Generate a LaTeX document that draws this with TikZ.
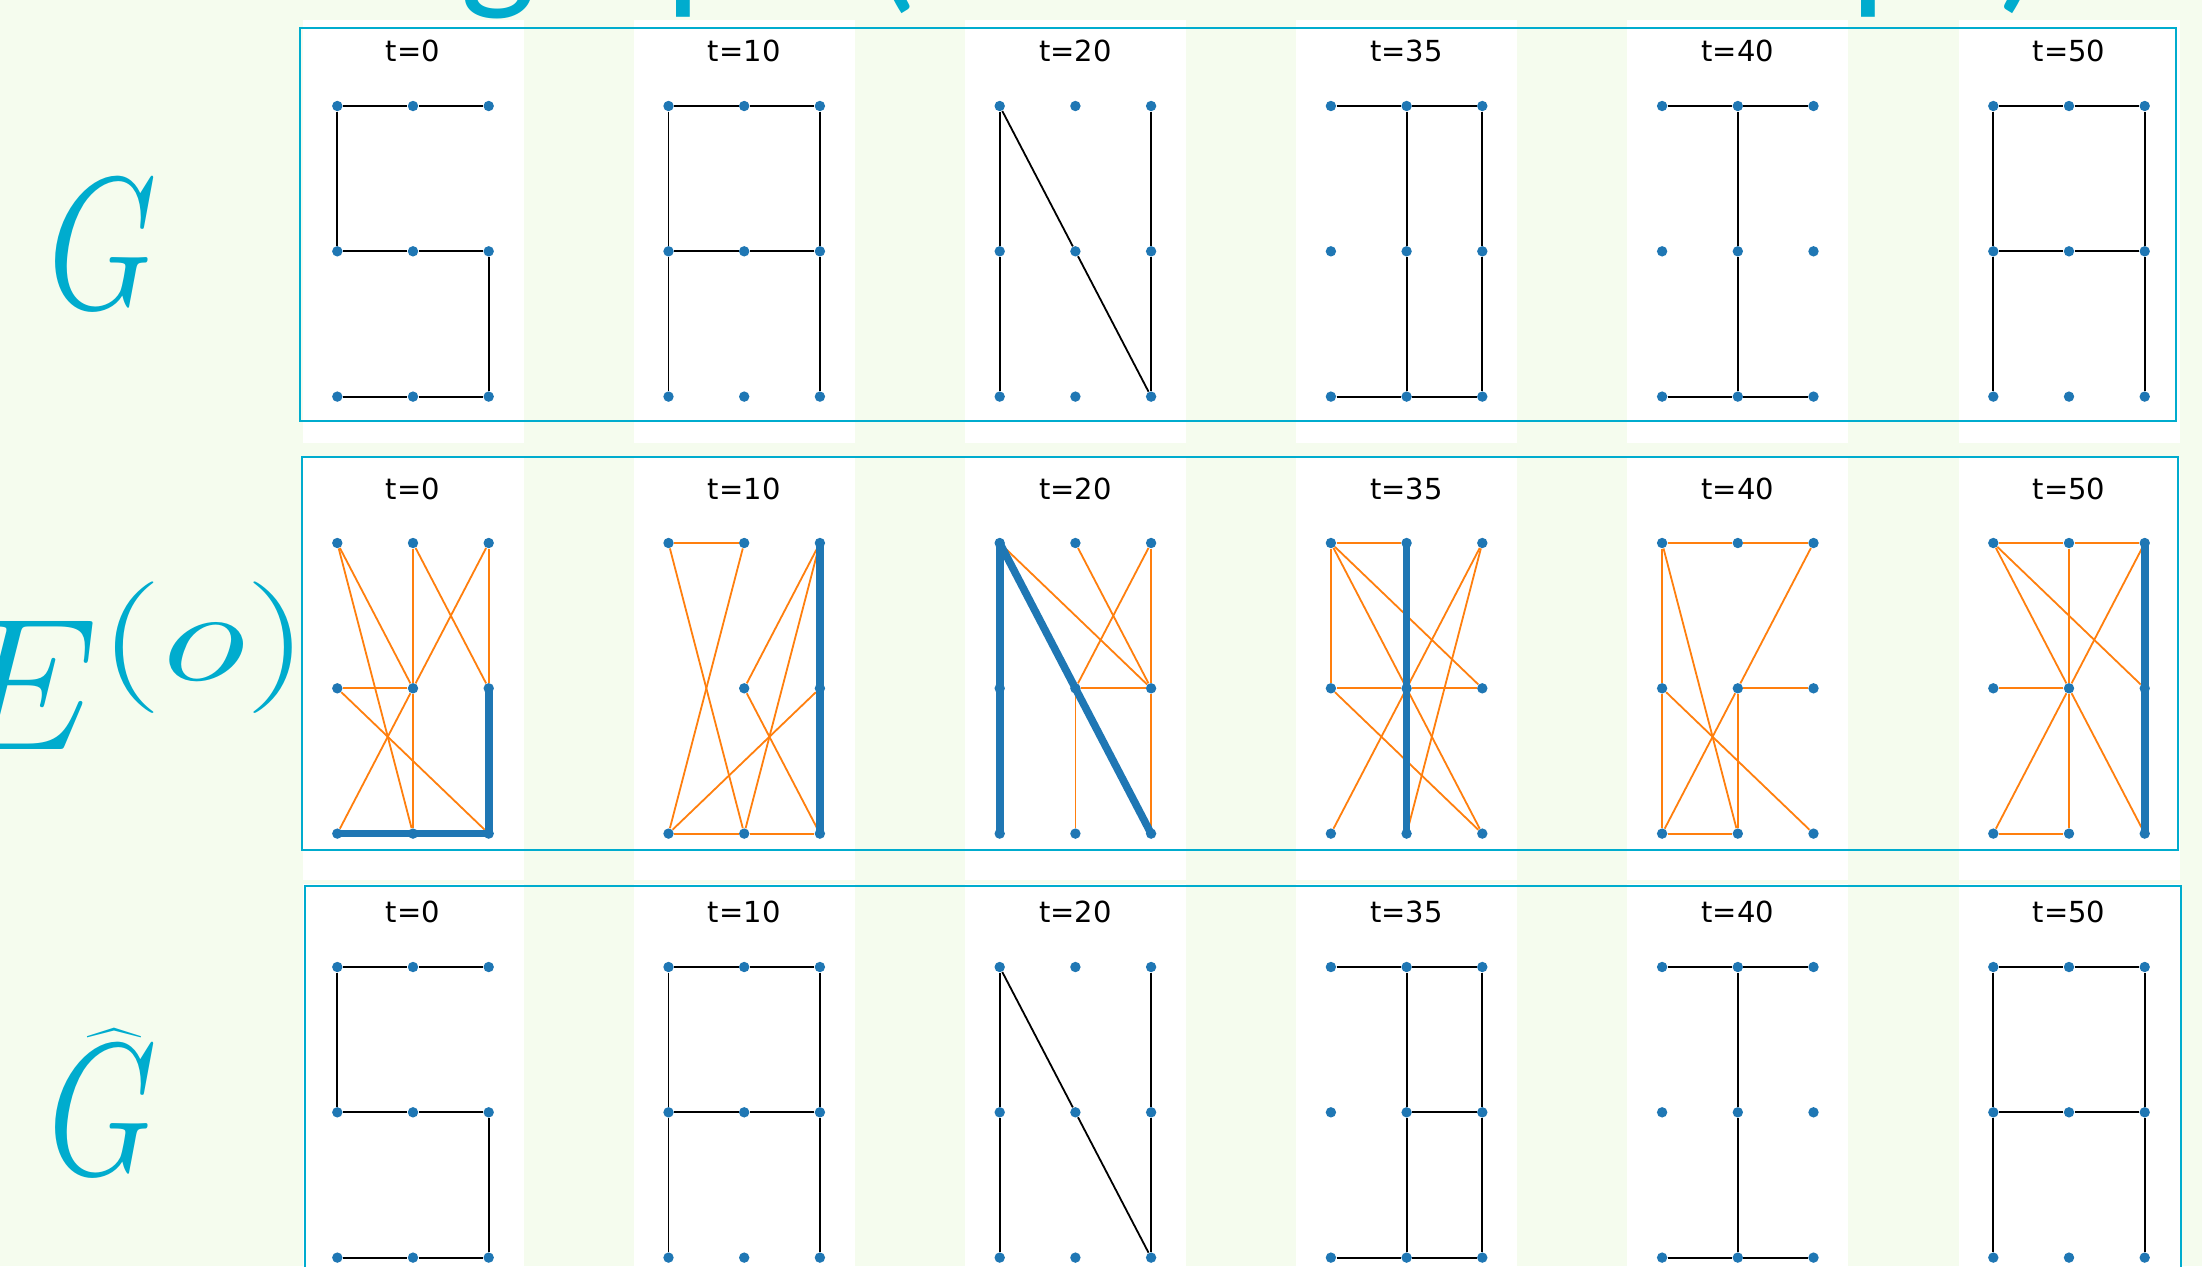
\RequirePackage{fix-cm}
\documentclass[tikz,border=0pt]{standalone}
\usepackage{exscale}
\usepackage[no-math]{fontspec}
\newfontfamily\plotfont{DejaVu Sans}
\newfontfamily\titlefont{Carlito}
\usetikzlibrary{positioning}

\definecolor{bgmint}{RGB}{245,252,238}
\definecolor{labcyan}{RGB}{0,172,206}
\definecolor{nodeblue}{RGB}{31,119,180}
\definecolor{edgeorange}{RGB}{255,127,14}

\begin{document}
\begin{tikzpicture}[
  x=0.5pt, y=-0.5pt,
  frame/.style={draw=labcyan, line width=1pt},
  dot/.style={circle, fill=nodeblue, inner sep=0pt, minimum size=5.2pt},
  skip e2-01/.style={fill=none},
  tlbl/.style={font=\plotfont\fontsize{14.5}{17}\selectfont, inner sep=0pt},
  lab/.style={font=\fontsize{94}{94}\selectfont, text=labcyan, inner sep=0pt},
  ttl/.style={font=\titlefont\fontsize{80}{80}\selectfont, text=labcyan, inner sep=0pt},
  gedge/.style={black, line width=0.9pt},
  oedge/.style={edgeorange, line width=0.9pt},
  bedge/.style={nodeblue, line width=3.8pt, line cap=round}
]
\useasboundingbox (0,0) rectangle (2202,1266);
\clip (0,0) rectangle (2202,1266);
\fill[bgmint] (0,0) rectangle (2202,1266);

% white axes of the six snapshots, three rows
\foreach \ya/\yb in {20/443, 458/880, 884/1266}
  \foreach \pn in {1,...,6}
    \fill[white] ({302.5+331.2*(\pn-1)},\ya) rectangle ++(221,{\yb-\ya});

\draw[frame] (300,28) rectangle (2176,421);
\draw[frame] (302,457) rectangle (2178,850);
\draw[frame] (305,886) rectangle (2181,1290);

\node[ttl, anchor=base west] (title) at (14,-9) {Latent graph (for all time steps)};

\node[lab, anchor=base] (labG) at (103,308) {\scalebox{0.75}[1]{$G$}};
\node[lab, anchor=base east] (labE) at (310,749)
  {$E^{\scalebox{1.35}[1]{$\scriptstyle(o)$}}$};
\node[lab, anchor=base] (labGh) at (103,1174) {\scalebox{0.75}[1]{$\widehat{G}$}};

% time stamps and the 3x3 grid of each snapshot
\foreach \rw/\ty/\ytop in {g/51/106, e/489/543, h/912/967}
  \foreach \pn/\tm in {1/0, 2/10, 3/20, 4/35, 5/40, 6/50} {
    \node[tlbl] (\rw\pn-t) at ({413+331.2*(\pn-1)},\ty) {t=\tm};
    \foreach \ci in {0,1,2}
      \foreach \ri in {0,1,2}
        \node[dot, skip \rw\pn-\ci\ri/.try] (\rw\pn-\ci\ri)
          at ({413+331.2*(\pn-1)+75.7*(\ci-1)},{\ytop+145.3*\ri}) {};
  }

% ground truth G and reconstruction \hat G
\foreach \rw in {g,h} {
  \foreach \ea/\eb in {00/10,10/20,00/01,01/11,11/21,21/22,02/12,12/22}
    \draw[gedge] (\rw1-\ea) -- (\rw1-\eb);
  \foreach \ea/\eb in {00/10,10/20,00/01,01/02,20/21,21/22,01/11,11/21}
    \draw[gedge] (\rw2-\ea) -- (\rw2-\eb);
  \foreach \ea/\eb in {00/01,01/02,00/11,11/22,20/21,21/22}
    \draw[gedge] (\rw3-\ea) -- (\rw3-\eb);
  \foreach \ea/\eb in {00/10,10/20,02/12,12/22,10/11,11/12,20/21,21/22}
    \draw[gedge] (\rw4-\ea) -- (\rw4-\eb);
  \foreach \ea/\eb in {00/10,10/20,02/12,12/22,10/11,11/12}
    \draw[gedge] (\rw5-\ea) -- (\rw5-\eb);
  \foreach \ea/\eb in {00/10,10/20,00/01,01/02,20/21,21/22,01/11,11/21}
    \draw[gedge] (\rw6-\ea) -- (\rw6-\eb);
}
\draw[gedge] (h4-11) -- (h4-21);

% edge scores E^(o): orange candidates, thick blue kept edges
\foreach \ea/\eb in {00/11,00/12,10/11,11/12,10/21,20/11,20/21,01/11,01/22,11/02}
  \draw[oedge] (e1-\ea) -- (e1-\eb);
\foreach \ea/\eb in {21/22,02/12,12/22}
  \draw[bedge] (e1-\ea.center) -- (e1-\eb.center);

\foreach \ea/\eb in {00/10,00/12,10/02,20/11,20/12,11/22,02/21,02/12,12/22}
  \draw[oedge] (e2-\ea) -- (e2-\eb);
\foreach \ea/\eb in {20/21,21/22}
  \draw[bedge] (e2-\ea.center) -- (e2-\eb.center);

\foreach \ea/\eb in {00/21,10/21,20/11,20/21,21/22,11/21,11/12}
  \draw[oedge] (e3-\ea) -- (e3-\eb);
\foreach \ea/\eb in {00/01,01/02,00/11,11/22}
  \draw[bedge] (e3-\ea.center) -- (e3-\eb.center);

\foreach \ea/\eb in {00/10,00/01,00/11,00/21,20/11,20/12,01/11,11/21,01/22,11/02,11/22}
  \draw[oedge] (e4-\ea) -- (e4-\eb);
\foreach \ea/\eb in {10/11,11/12}
  \draw[bedge] (e4-\ea.center) -- (e4-\eb.center);

\foreach \ea/\eb in {00/10,10/20,00/01,01/02,00/12,20/11,11/21,11/12,11/02,01/22,02/12}
  \draw[oedge] (e5-\ea) -- (e5-\eb);

\foreach \ea/\eb in {00/10,10/20,10/11,11/12,00/11,00/21,20/11,01/11,11/02,11/22,02/12}
  \draw[oedge] (e6-\ea) -- (e6-\eb);
\foreach \ea/\eb in {20/21,21/22}
  \draw[bedge] (e6-\ea.center) -- (e6-\eb.center);
\end{tikzpicture}
\end{document}
